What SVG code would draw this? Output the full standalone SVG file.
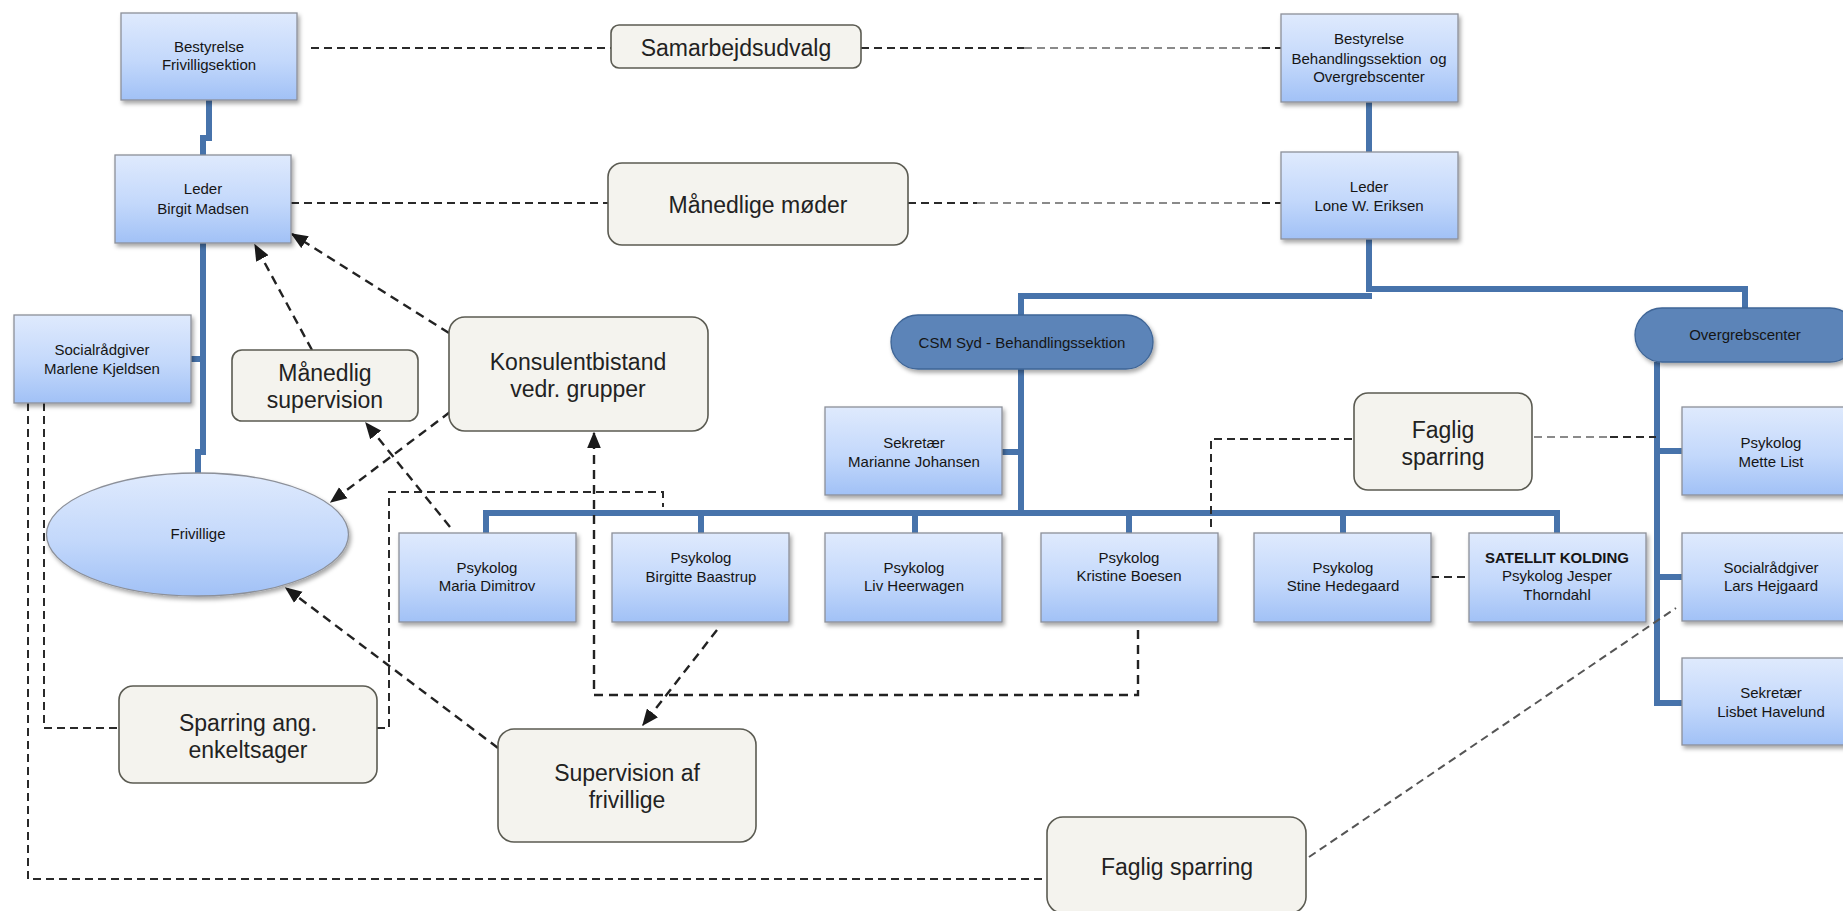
<svg xmlns="http://www.w3.org/2000/svg" width="1843" height="911" viewBox="0 0 1843 911">
<style>
.box{fill:url(#bg);stroke:#8c9099;stroke-width:1.3;filter:url(#sh)}
.pill{fill:#5b84b8;stroke:#3f6596;stroke-width:1.3;filter:url(#sh)}
.lbl{fill:#f4f3ee;stroke:#5b5b52;stroke-width:1.6}
.t{font-family:"Liberation Sans",Arial,sans-serif;font-size:15px;fill:#151515;text-anchor:middle}
.tb{font-weight:bold}
.L{font-family:"Liberation Sans",Arial,sans-serif;font-size:23px;fill:#222;text-anchor:middle}
.tree{fill:none;stroke:#4773ab;stroke-width:6;stroke-linejoin:miter}
.d{fill:none;stroke:#2a2a2a;stroke-width:2;stroke-dasharray:8 5}
.g{fill:none;stroke:#8a8a8a;stroke-width:2;stroke-dasharray:8 5}
.a{fill:none;stroke:#222;stroke-width:2.4;stroke-dasharray:9 6;marker-end:url(#ah)}
</style>
<defs>
<linearGradient id="bg" x1="0" y1="0" x2="0" y2="1">
<stop offset="0" stop-color="#dfeafd"/>
<stop offset="0.55" stop-color="#c3d8fb"/>
<stop offset="1" stop-color="#a1c1f6"/>
</linearGradient>
<filter id="sh" x="-10%" y="-10%" width="130%" height="130%">
<feDropShadow dx="2" dy="3" stdDeviation="2" flood-color="#000" flood-opacity="0.35"/>
</filter>
<marker id="ah" viewBox="0 0 12 10" refX="11" refY="5" markerWidth="7" markerHeight="6" orient="auto" markerUnits="strokeWidth">
<path d="M0,0 L12,5 L0,10 z" fill="#1a1a1a"/>
</marker>
</defs>

<g id="connectors">
<!-- org tree lines -->
<path class="tree" d="M209,100 V138 H203 V155"/>
<path class="tree" d="M203,243 V452 H198 V473"/>
<path class="tree" d="M190,359 H203"/>
<path class="tree" d="M1369,102 V152"/>
<path class="tree" d="M1369,239 V289 H1745 V308"/>
<path class="tree" d="M1372,296 H1021 V315"/>
<path class="tree" d="M1021,369 V513"/>
<path class="tree" d="M1002,452 H1021"/>
<path class="tree" d="M486,533 V513 H1557 V533"/>
<path class="tree" d="M701,513 V533 M915,513 V533 M1129,513 V533 M1343,513 V533"/>
<path class="tree" d="M1657,362 V703 H1682"/>
<path class="tree" d="M1657,451 H1682 M1657,577 H1682"/>

<!-- dashed relations -->
<path class="d" d="M311,48 H611"/>
<path class="d" d="M861,48 H1024"/>
<path class="g" d="M1024,48 H1262"/>
<path class="d" d="M1262,48 H1281"/>
<path class="d" d="M291,203 H608"/>
<path class="d" d="M908,203 H977"/>
<path class="g" d="M977,203 H1262"/>
<path class="d" d="M1262,203 H1281"/>
<path class="d" d="M28,403 V879 H1047"/>
<path class="d" d="M44,403 V728 H119"/>
<path class="d" d="M377,728 H389 V492 H663 V507"/>
<path class="d" d="M1211,527 V439 H1354"/>
<path class="g" d="M1534,437 H1610"/>
<path class="d" d="M1610,437 H1656"/>
<path class="d" d="M1431,577 H1469"/>
<path class="d" d="M1309,857 L1676,608" style="stroke:#555"/>

<!-- arrows -->
<path class="a" d="M449,333 L292,234"/>
<path class="a" d="M312,350 L255,245"/>
<path class="a" d="M450,412 L331,502"/>
<path class="a" d="M450,527 L366,423"/>
<path class="a" d="M498,748 L286,588"/>
<path class="a" d="M717,630 L643,725"/>
<path class="a" d="M1138,630 V695 H594 V433"/>
</g>

<g id="n-bestyrelse-friv"><rect class="box" x="121" y="13" width="176" height="87"/>
<text class="t" x="209" y="52">Bestyrelse</text><text class="t" x="209" y="70">Frivilligsektion</text></g>

<g id="n-leder-birgit"><rect class="box" x="115" y="155" width="176" height="88"/>
<text class="t" x="203" y="194">Leder</text><text class="t" x="203" y="214">Birgit Madsen</text></g>

<g id="n-marlene"><rect class="box" x="14" y="315" width="177" height="88"/>
<text class="t" x="102" y="355">Socialrådgiver</text><text class="t" x="102" y="374">Marlene Kjeldsen</text></g>

<g id="n-frivillige"><ellipse cx="197.5" cy="534.5" rx="151" ry="61.5" style="fill:url(#bg);stroke:#8c9099;stroke-width:1.3;filter:url(#sh)"/>
<text class="t" x="198" y="539">Frivillige</text></g>

<g id="n-bestyrelse-beh"><rect class="box" x="1281" y="14" width="177" height="88"/>
<text class="t" x="1369" y="44">Bestyrelse</text>
<text class="t" x="1369" y="64" xml:space="preserve">Behandlingssektion  og</text>
<text class="t" x="1369" y="82">Overgrebscenter</text></g>

<g id="n-leder-lone"><rect class="box" x="1281" y="152" width="177" height="87"/>
<text class="t" x="1369" y="192">Leder</text><text class="t" x="1369" y="211">Lone W. Eriksen</text></g>

<g id="n-csm"><rect class="pill" x="891" y="315" width="262" height="54" rx="27"/>
<text class="t" x="1022" y="348">CSM Syd - Behandlingssektion</text></g>

<g id="n-overgreb"><rect class="pill" x="1635" y="308" width="222" height="54" rx="27"/>
<text class="t" x="1745" y="340">Overgrebscenter</text></g>

<g id="n-marianne"><rect class="box" x="825" y="407" width="177" height="88"/>
<text class="t" x="914" y="448">Sekretær</text><text class="t" x="914" y="467">Marianne Johansen</text></g>

<g id="n-maria"><rect class="box" x="399" y="533" width="177" height="89"/>
<text class="t" x="487" y="573">Psykolog</text><text class="t" x="487" y="591">Maria Dimitrov</text></g>

<g id="n-birgitte"><rect class="box" x="612" y="533" width="177" height="89"/>
<text class="t" x="701" y="563">Psykolog</text><text class="t" x="701" y="582">Birgitte Baastrup</text></g>

<g id="n-liv"><rect class="box" x="825" y="533" width="177" height="89"/>
<text class="t" x="914" y="573">Psykolog</text><text class="t" x="914" y="591">Liv Heerwagen</text></g>

<g id="n-kristine"><rect class="box" x="1041" y="533" width="177" height="89"/>
<text class="t" x="1129" y="563">Psykolog</text><text class="t" x="1129" y="581">Kristine Boesen</text></g>

<g id="n-stine"><rect class="box" x="1254" y="533" width="177" height="89"/>
<text class="t" x="1343" y="573">Psykolog</text><text class="t" x="1343" y="591">Stine Hedegaard</text></g>

<g id="n-satellit"><rect class="box" x="1469" y="533" width="177" height="89"/>
<text class="t tb" x="1557" y="563">SATELLIT KOLDING</text>
<text class="t" x="1557" y="581">Psykolog Jesper</text><text class="t" x="1557" y="600">Thorndahl</text></g>

<g id="n-mette"><rect class="box" x="1682" y="407" width="177" height="88"/>
<text class="t" x="1771" y="448">Psykolog</text><text class="t" x="1771" y="467">Mette List</text></g>

<g id="n-lars"><rect class="box" x="1682" y="533" width="177" height="88"/>
<text class="t" x="1771" y="573">Socialrådgiver</text><text class="t" x="1771" y="591">Lars Hejgaard</text></g>

<g id="n-lisbet"><rect class="box" x="1682" y="658" width="177" height="87"/>
<text class="t" x="1771" y="698">Sekretær</text><text class="t" x="1771" y="717">Lisbet Havelund</text></g>

<g id="n-samarbejd"><rect class="lbl" x="611" y="25" width="250" height="43" rx="8"/>
<text class="L" x="736" y="56">Samarbejdsudvalg</text></g>

<g id="n-maanedlige-moeder"><rect class="lbl" x="608" y="163" width="300" height="82" rx="14"/>
<text class="L" x="758" y="213">Månedlige møder</text></g>

<g id="n-maanedlig-sup"><rect class="lbl" x="232" y="350" width="186" height="71" rx="10"/>
<text class="L" x="325" y="381">Månedlig</text><text class="L" x="325" y="408">supervision</text></g>

<g id="n-konsulent"><rect class="lbl" x="449" y="317" width="259" height="114" rx="16"/>
<text class="L" x="578" y="370">Konsulentbistand</text><text class="L" x="578" y="397">vedr. grupper</text></g>

<g id="n-faglig1"><rect class="lbl" x="1354" y="393" width="178" height="97" rx="14"/>
<text class="L" x="1443" y="438">Faglig</text><text class="L" x="1443" y="465">sparring</text></g>

<g id="n-sparring"><rect class="lbl" x="119" y="686" width="258" height="97" rx="14"/>
<text class="L" x="248" y="731">Sparring ang.</text><text class="L" x="248" y="758">enkeltsager</text></g>

<g id="n-supervision"><rect class="lbl" x="498" y="729" width="258" height="113" rx="16"/>
<text class="L" x="627" y="781">Supervision af</text><text class="L" x="627" y="808">frivillige</text></g>

<g id="n-faglig2"><rect class="lbl" x="1047" y="817" width="259" height="96" rx="16"/>
<text class="L" x="1177" y="875">Faglig sparring</text></g>
</svg>
